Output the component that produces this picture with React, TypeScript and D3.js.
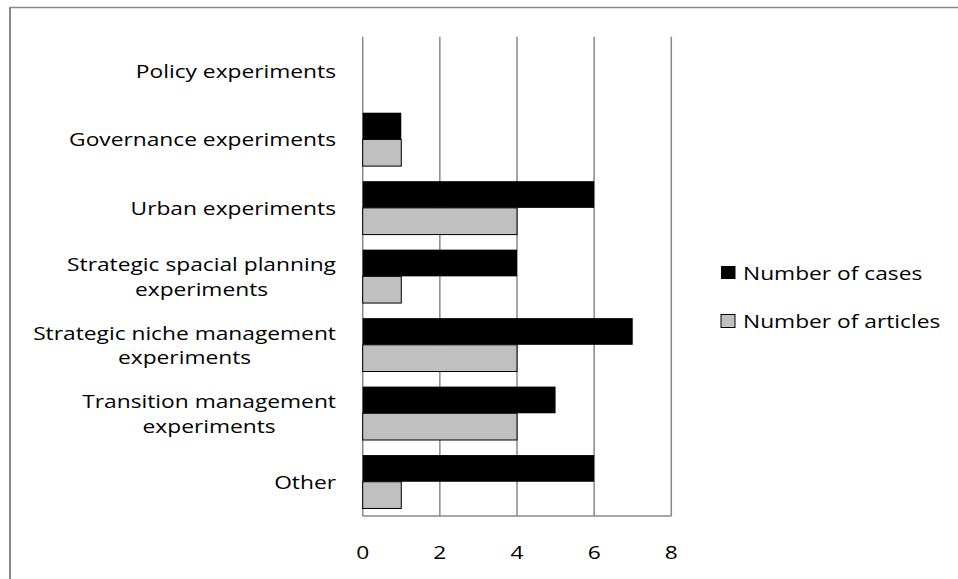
import React from "react";
import * as d3 from "d3";

const categories: string[][] = [
  ["Policy experiments"],
  ["Governance experiments"],
  ["Urban experiments"],
  ["Strategic spacial planning", "experiments"],
  ["Strategic niche management", "experiments"],
  ["Transition management", "experiments"],
  ["Other"],
];
const cases = [0, 1, 6, 4, 7, 5, 6];
const articles = [0, 1, 4, 1, 4, 4, 1];
const ticks = [0, 2, 4, 6, 8];
const seriesNames = ["Number of cases", "Number of articles"];

const W = 958;
const H = 579;
const FONT = "'Open Sans', sans-serif";
const FS = 19;

let ctx: CanvasRenderingContext2D | null = null;
function measure(s: string): number {
  if (!ctx) {
    const c = document.createElement("canvas");
    ctx = c.getContext("2d");
  }
  if (!ctx) return s.length * FS * 0.55;
  ctx.font = `${FS}px 'Open Sans'`;
  return ctx.measureText(s).width;
}

export default function App() {
  const sx = 267 / measure("Governance experiments");
  const x = d3.scaleLinear().domain([0, 8]).range([362.7, 671.3]);
  const y = d3
    .scaleBand<number>()
    .domain(d3.range(categories.length))
    .range([36.7, 516])
    .paddingInner(0.22)
    .paddingOuter(0.11);
  const bh = y.bandwidth() / 2;
  const grid = "#888888";
  const T = (props: {
    x: number;
    y: number;
    anchor?: string;
    children: React.ReactNode;
  }) => (
    <g transform={`translate(${props.x},${props.y}) scale(${sx},1)`}>
      <text
        x={0}
        y={0}
        fontFamily={FONT}
        fontSize={FS}
        fill="#000"
        textAnchor={props.anchor || "start"}
      >
        {props.children}
      </text>
    </g>
  );
  return (
    <svg width={W} height={H} style={{ position: "absolute", left: 0, top: 0 }}>
      <rect x={0} y={0} width={W} height={H} fill="#fff" />
      <line x1={10} y1={7.5} x2={W} y2={7.5} stroke={grid} strokeWidth={1.5} />
      <line x1={10} y1={7} x2={10} y2={H} stroke={grid} strokeWidth={2} />
      {ticks.map((t) => (
        <line key={t} x1={x(t)} x2={x(t)} y1={36.7} y2={516} stroke={grid} strokeWidth={1.5} />
      ))}
      <line x1={x(0)} x2={x(8)} y1={516} y2={516} stroke={grid} strokeWidth={1.5} />
      {categories.map((c, i) => {
        const y0 = y(i)!;
        return (
          <g key={i}>
            {cases[i] > 0 && (
              <rect x={x(0)} y={y0} width={x(cases[i]) - x(0)} height={bh} fill="#000" />
            )}
            {articles[i] > 0 && (
              <rect
                x={x(0)}
                y={y0 + bh}
                width={x(articles[i]) - x(0)}
                height={bh}
                fill="#C0C0C0"
                stroke="#000"
                strokeWidth={1}
              />
            )}
          </g>
        );
      })}
      {categories.map((c, i) => {
        const cy = y(i)! + y.bandwidth() / 2;
        const lh = 24.5;
        const start = cy + 7 - ((c.length - 1) * lh) / 2;
        const maxW = Math.max(...c.map((l) => measure(l))) * sx;
        const isMulti = c.length > 1;
        const cx = isMulti ? 336 - maxW / 2 : 336;
        return (
          <g key={i}>
            {c.map((line, j) => (
              <T key={j} x={cx} y={start + j * lh} anchor={isMulti ? "middle" : "end"}>
                {line}
              </T>
            ))}
          </g>
        );
      })}
      {ticks.map((t) => (
        <T key={t} x={x(t)} y={558.5} anchor="middle">
          {t}
        </T>
      ))}
      <rect x={721} y={266} width={14.5} height={13} fill="#000" />
      <T x={743} y={279.5}>{seriesNames[0]}</T>
      <rect x={721} y={314.5} width={14} height={13} fill="#C0C0C0" stroke="#000" strokeWidth={1} />
      <T x={743} y={327.5}>{seriesNames[1]}</T>
    </svg>
  );
}
